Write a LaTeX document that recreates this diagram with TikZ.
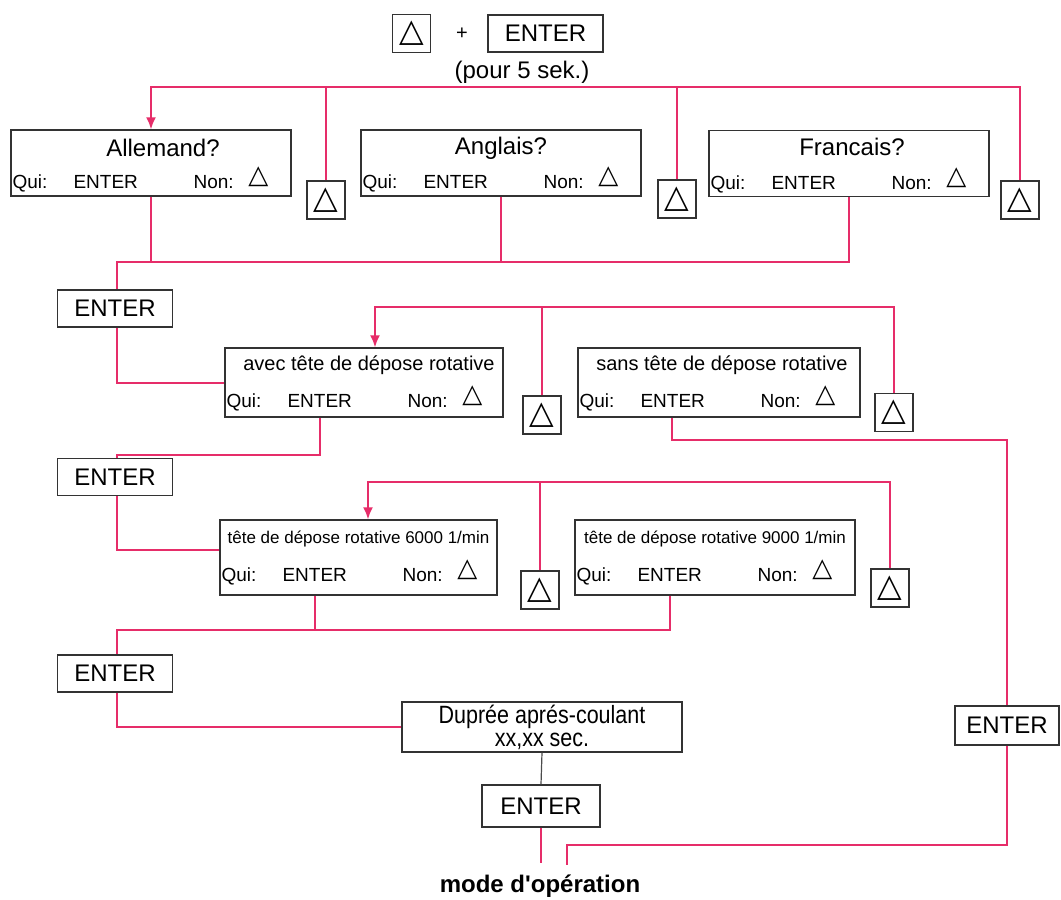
\documentclass[tikz,border=0pt]{standalone}
\usepackage{fontspec}
\setmainfont{Liberation Sans}
\newfontfamily\symfont{DejaVu Sans}
\newfontfamily\narrowfont[FakeStretch=0.86]{Liberation Sans}
\usetikzlibrary{arrows.meta}
\definecolor{linkpink}{RGB}{230,45,105}

\begin{document}
\begin{tikzpicture}[x=1pt,y=-1pt,
  box/.style={draw=black!80,line width=1.3pt,inner sep=0pt},
  keybox/.style={box,minimum width=38pt,minimum height=38pt,font=\symfont\fontsize{32}{32}\selectfont},
  enterbox/.style={box,minimum width=115pt,minimum height=37pt,font=\fontsize{24}{24}\selectfont},
  menubox/.style={box,minimum width=280pt},
  title/.style={inner sep=0pt},
  small/.style={font=\fontsize{19}{19}\selectfont,inner sep=0pt,anchor=base west},
  tri/.style={font=\symfont\fontsize{26}{26}\selectfont,inner sep=0pt},
  link/.style={draw=linkpink,line width=2pt},
  pointer/.style={link,-{Latex[length=12pt,width=10pt]}}]
\useasboundingbox (0,0) rectangle (1061,900);

% start
\node[keybox] (keyT) at (411.5,33.5) {△};
\node[font=\fontsize{20}{20}\selectfont] (plus) at (462,34) {+};
\node[enterbox] (entT) at (545.5,33.5) {ENTER};
\node[font=\fontsize{24}{24}\selectfont] (pour) at (522,72) {(pour 5 sek.)};

% language
\node[menubox,minimum height=66pt] (allem) at (151,163) {};
\node[menubox,minimum height=66pt] (angl) at (501,163) {};
\node[menubox,minimum height=66pt] (franc) at (849,163.5) {};
\node[title,font=\fontsize{24}{24}\selectfont] at ([xshift=12,yshift=-19]allem.north) {Allemand?};
\node[title,font=\fontsize{24}{24}\selectfont] at ([yshift=-19]angl.north) {Anglais?};
\node[title,font=\fontsize{24}{24}\selectfont] at ([xshift=3,yshift=-17]franc.north) {Francais?};
\node[keybox] (k1) at (326,200) {△};
\node[keybox] (k2) at (677,199) {△};
\node[keybox] (k3) at (1020,200) {△};

% rotary head
\node[enterbox] (e1) at (115,308.5) {ENTER};
\node[menubox,minimum width=278pt,minimum height=69pt] (avec) at (364,382.5) {};
\node[menubox,minimum width=282pt,minimum height=69pt] (sans) at (719,382.5) {};
\node[title,font=\fontsize{20}{20}\selectfont] at ([xshift=5,yshift=-18]avec.north) {avec tête de dépose rotative};
\node[title,font=\fontsize{20}{20}\selectfont] at ([xshift=3,yshift=-18]sans.north) {sans tête de dépose rotative};
\node[keybox] (k4) at (542,415) {△};
\node[keybox] (k5) at (894,412.5) {△};

% speed
\node[enterbox] (e2) at (115,477) {ENTER};
\node[menubox,minimum width=277pt,minimum height=75pt] (s6) at (358.5,557.5) {};
\node[menubox,minimum width=280pt,minimum height=75pt] (s9) at (715,557.5) {};
\node[title,font=\fontsize{17}{17}\selectfont] at ([yshift=-20]s6.north) {tête de dépose rotative 6000 1/min};
\node[title,font=\fontsize{17}{17}\selectfont] at ([yshift=-20]s9.north) {tête de dépose rotative 9000 1/min};
\node[keybox] (k6) at (540,590) {△};
\node[keybox] (k7) at (890,588) {△};

% after-run time
\node[enterbox] (e3) at (115,673.5) {ENTER};
\node[menubox,minimum height=50pt,align=center,font=\narrowfont\fontsize{25}{23}\selectfont] (dup) at (542,727) {Duprée aprés-coulant\\xx,xx sec.};
\node[enterbox,minimum width=118pt,minimum height=42pt] (e5) at (541,806) {ENTER};
\node[enterbox,minimum width=104pt,minimum height=39pt] (eR) at (1007,725.5) {ENTER};
\node[font=\bfseries\fontsize{24}{24}\selectfont] (mode) at (540,886) {mode d\textquotesingle opération};

% yes / no lines inside the menu boxes
\foreach \b/\d in {allem/8,angl/8,franc/8,avec/10,sans/10,s6/14,s9/14} {
  \node[small] at ([xshift=2,yshift=\d]\b.south west) {Qui:};
  \node[small] at ([xshift=63,yshift=\d]\b.south west) {ENTER};
  \node[small] at ([xshift=183,yshift=\d]\b.south west) {Non:};
  \node[tri,anchor=base] at ([xshift=248,yshift=\d+5]\b.south west) {△};
}

% exits
\coordinate (b1) at (151,87);
\coordinate (b2) at (117,262);
\coordinate (b3) at (375,307);
\coordinate (b4) at (117,455);
\coordinate (b5) at (1007,440);
\coordinate (b6) at (368,482);
\coordinate (b7) at (117,630);
\coordinate (b8) at (567,845);
\coordinate (avecout) at ([xshift=-44]avec.south);
\coordinate (sansout) at ([xshift=-47]sans.south);
\coordinate (s6out) at ([xshift=-44]s6.south);
\coordinate (s9out) at ([xshift=-45]s9.south);

\draw[pointer] (k3.north) |- (b1) -- (allem.north);
\draw[link] (k1.north) -- (k1.north |- b1);
\draw[link] (k2.north) -- (k2.north |- b1);

\draw[link] (franc.south) |- (b2) -- (b2 |- e1.north);
\draw[link] (allem.south) -- (allem.south |- b2);
\draw[link] (angl.south) -- (angl.south |- b2);
\draw[link] (b2 |- e1.south) |- (avec.west);

\draw[pointer] (k5.north) |- (b3) -- (b3 |- avec.north);
\draw[link] (k4.north) -- (k4.north |- b3);
\draw[link] (avecout) |- (b4) -- (b4 |- e2.north);
\draw[link] (sansout) |- (b5) -- (eR.north);

\draw[link] (b4 |- e2.south) |- ([yshift=8]s6.west);
\draw[pointer] (k7.north) |- (b6) -- (b6 |- s6.north);
\draw[link] (k6.north) -- (k6.north |- b6);
\draw[link] (s9out) |- (b7) -- (b7 |- e3.north);
\draw[link] (s6out) -- (s6out |- b7);

\draw[link] (b7 |- e3.south) |- (dup.west);
\draw[draw=black!70,line width=1.2pt] (dup.south) -- (e5.north);
\draw[link] (e5.south) -- ++(0,35);
\draw[link] (eR.south) |- (b8) -- ++(0,20);
\end{tikzpicture}
\end{document}
